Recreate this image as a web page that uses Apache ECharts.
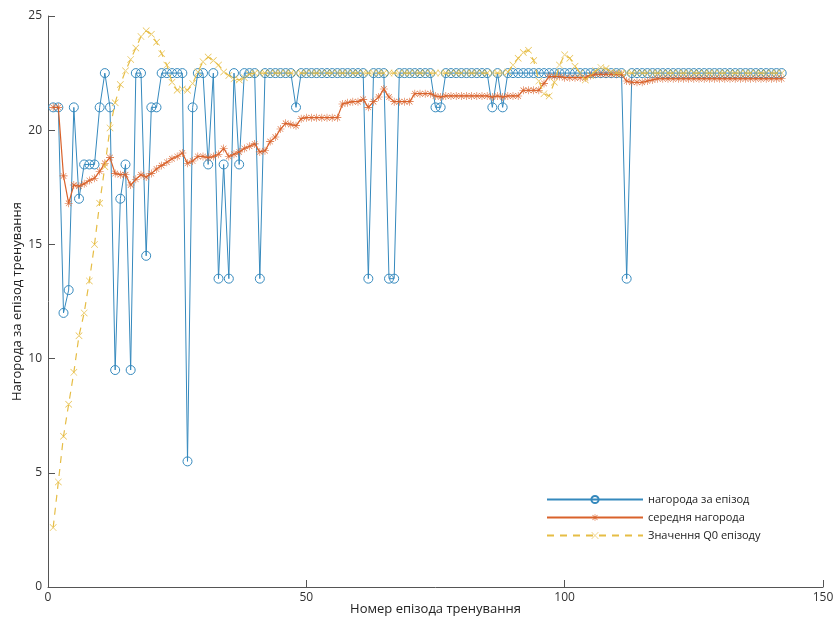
<!DOCTYPE html>
<html>
<head>
<meta charset="utf-8">
<script src="https://cdn.jsdelivr.net/npm/echarts@6/dist/echarts.min.js"></script>
<style>
  html, body { margin: 0; padding: 0; background: #fff; }
  #chart { width: 834px; height: 621px; }
</style>
</head>
<body>
<div id="chart"></div>
<script>
// нагорода за епізод
const episodeReward = [
  21, 21, 12, 13, 21, 17, 18.5, 18.5, 18.5, 21,
  22.5, 21, 9.5, 17, 18.5, 9.5, 22.5, 22.5, 14.5, 21,
  21, 22.5, 22.5, 22.5, 22.5, 22.5, 5.5, 21, 22.5, 22.5,
  18.5, 22.5, 13.5, 18.5, 13.5, 22.5, 18.5, 22.5, 22.5, 22.5,
  13.5, 22.5, 22.5, 22.5, 22.5, 22.5, 22.5, 21, 22.5, 22.5,
  22.5, 22.5, 22.5, 22.5, 22.5, 22.5, 22.5, 22.5, 22.5, 22.5,
  22.5, 13.5, 22.5, 22.5, 22.5, 13.5, 13.5, 22.5, 22.5, 22.5,
  22.5, 22.5, 22.5, 22.5, 21, 21, 22.5, 22.5, 22.5, 22.5,
  22.5, 22.5, 22.5, 22.5, 22.5, 21, 22.5, 21, 22.5, 22.5,
  22.5, 22.5, 22.5, 22.5, 22.5, 22.5, 22.5, 22.5, 22.5, 22.5,
  22.5, 22.5, 22.5, 22.5, 22.5, 22.5, 22.5, 22.5, 22.5, 22.5,
  22.5, 13.5, 22.5, 22.5, 22.5, 22.5, 22.5, 22.5, 22.5, 22.5,
  22.5, 22.5, 22.5, 22.5, 22.5, 22.5, 22.5, 22.5, 22.5, 22.5,
  22.5, 22.5, 22.5, 22.5, 22.5, 22.5, 22.5, 22.5, 22.5, 22.5,
  22.5, 22.5
]

// середня нагорода
const averageReward = [
  21, 21, 18.0, 16.8, 17.6, 17.55, 17.65, 17.8, 17.9, 18.2,
  18.55, 18.8, 18.1, 18.05, 18.05, 17.6, 17.85, 18.05, 17.95, 18.1,
  18.3, 18.45, 18.6, 18.75, 18.85, 19.0, 18.55, 18.65, 18.85, 18.85,
  18.8, 18.85, 18.95, 19.2, 18.85, 18.95, 19.05, 19.2, 19.3, 19.4,
  19.05, 19.1, 19.5, 19.7, 20.05, 20.3, 20.25, 20.2, 20.5, 20.55,
  20.55, 20.55, 20.55, 20.55, 20.55, 20.55, 21.15, 21.2, 21.25, 21.25,
  21.35, 21.0, 21.25, 21.45, 21.8, 21.45, 21.25, 21.25, 21.25, 21.25,
  21.6, 21.6, 21.6, 21.6, 21.5, 21.45, 21.5, 21.5, 21.5, 21.5,
  21.5, 21.5, 21.5, 21.5, 21.5, 21.45, 21.5, 21.45, 21.5, 21.5,
  21.5, 21.75, 21.75, 21.75, 21.75, 22.05, 22.35, 22.35, 22.35, 22.3,
  22.3, 22.3, 22.3, 22.3, 22.4, 22.45, 22.45, 22.45, 22.45, 22.45,
  22.45, 22.15, 22.1, 22.1, 22.1, 22.15, 22.2, 22.25, 22.25, 22.25,
  22.25, 22.25, 22.25, 22.25, 22.25, 22.25, 22.25, 22.25, 22.25, 22.25,
  22.25, 22.25, 22.25, 22.25, 22.25, 22.25, 22.25, 22.25, 22.25, 22.25,
  22.25, 22.25
]

// Значення Q0 епізоду
const q0Value = [
  2.6, 4.6, 6.6, 8.0, 9.4, 11.0, 12.0, 13.4, 15.0, 16.8,
  18.4, 20.1, 21.2, 22.0, 22.6, 23.1, 23.6, 24.1, 24.35, 24.2,
  23.85, 23.35, 22.85, 22.1, 21.75, 21.8, 21.75, 22.05, 22.55, 23.0,
  23.2, 23.05, 22.85, 22.55, 22.4, 22.25, 22.2, 22.3, 22.45, 22.5,
  22.5, 22.5, 22.5, 22.5, 22.5, 22.5, 22.5, 22.5, 22.5, 22.5,
  22.5, 22.5, 22.5, 22.5, 22.5, 22.5, 22.5, 22.5, 22.5, 22.5,
  22.5, 22.5, 22.5, 22.5, 22.5, 22.5, 22.5, 22.5, 22.5, 22.5,
  22.5, 22.5, 22.5, 22.5, 22.5, 22.5, 22.5, 22.5, 22.5, 22.5,
  22.5, 22.5, 22.5, 22.5, 22.5, 22.5, 22.5, 22.5, 22.55, 22.85,
  23.15, 23.4, 23.5, 23.05, 22.15, 21.6, 21.5, 22.1, 22.85, 23.3,
  23.15, 22.8, 22.5, 22.2, 22.4, 22.6, 22.75, 22.7, 22.55, 22.5,
  22.5, 22.5, 22.5, 22.5, 22.5, 22.5, 22.5, 22.5, 22.5, 22.5,
  22.5, 22.5, 22.5, 22.5, 22.5, 22.5, 22.5, 22.5, 22.5, 22.5,
  22.5, 22.5, 22.5, 22.5, 22.5, 22.5, 22.5, 22.5, 22.5, 22.5,
  22.5, 22.5
]

const seriesNames = ['нагорода за епізод', 'середня нагорода', 'Значення Q0 епізоду']
const xTicks = [0, 50, 100, 150]
const yTicks = [0, 5, 10, 15, 20, 25]

const colors = ['#3589bd', '#d9622b', '#e6bd45']
const font = '"Open Sans", "Noto Sans", sans-serif'

// episode numbers 1..N
const episodes = episodeReward.map((v, i) => i + 1)
const pairs = arr => arr.map((v, i) => [episodes[i], v])

// matlab-like markers
const starPath = 'path://M0,9.3 L20,9.3 L20,10.7 L0,10.7 Z M9.3,0 L10.7,0 L10.7,20 L9.3,20 Z ' +
  'M2.5,3.5 L3.5,2.5 L17.5,16.5 L16.5,17.5 Z M2.5,16.5 L3.5,17.5 L17.5,3.5 L16.5,2.5 Z'
const crossPath = 'path://M0,1.2 L1.2,0 L20,18.8 L18.8,20 Z M0,18.8 L1.2,20 L20,1.2 L18.8,0 Z'

var myChart = echarts.init(document.getElementById('chart'))

myChart.setOption({
  animation: false,
  color: colors,
  textStyle: { fontFamily: font },
  grid: {
    left: 48,
    right: 11,
    top: 16,
    bottom: 34,
    containLabel: false,
    outerBoundsMode: 'none'
  },
  legend: {
    orient: 'vertical',
    left: 541,
    top: 489,
    itemWidth: 96,
    itemHeight: 9,
    itemGap: 7,
    textStyle: { fontSize: 11, color: '#222', fontFamily: font },
    data: seriesNames
  },
  xAxis: {
    type: 'value',
    min: xTicks[0],
    max: xTicks[xTicks.length - 1],
    interval: 50,
    name: 'Номер епізода тренування',
    nameLocation: 'middle',
    nameGap: 16,
    nameMoveOverlap: false,
    nameTextStyle: { fontSize: 13, color: '#222' },
    axisLine: { show: true, lineStyle: { color: '#555' } },
    axisTick: { show: true, inside: true, length: 7, lineStyle: { color: '#555' } },
    axisLabel: { fontSize: 12, color: '#333', margin: 5 },
    splitLine: { show: false }
  },
  yAxis: {
    type: 'value',
    min: yTicks[0],
    max: yTicks[yTicks.length - 1],
    interval: 5,
    name: 'Нагорода за епізод тренування',
    nameLocation: 'middle',
    nameGap: 24,
    nameMoveOverlap: false,
    nameTextStyle: { fontSize: 13, color: '#222' },
    axisLine: { show: true, lineStyle: { color: '#555' } },
    axisTick: { show: true, inside: true, length: 7, lineStyle: { color: '#555' } },
    axisLabel: { fontSize: 12, color: '#333', margin: 6 },
    splitLine: { show: false }
  },
  series: [
    {
      name: seriesNames[0],
      type: 'line',
      z: 2,
      data: pairs(episodeReward),
      symbol: 'circle',
      symbolSize: 9,
      showAllSymbol: true,
      lineStyle: { color: colors[0], width: 1 },
      itemStyle: { color: 'rgba(255,255,255,0)', borderColor: colors[0], borderWidth: 1 }
    },
    {
      name: seriesNames[1],
      type: 'line',
      z: 3,
      data: pairs(averageReward),
      symbol: starPath,
      symbolSize: 8,
      showAllSymbol: true,
      lineStyle: { color: colors[1], width: 1.2 },
      itemStyle: { color: colors[1] }
    },
    {
      name: seriesNames[2],
      type: 'line',
      z: 4,
      data: pairs(q0Value),
      symbol: crossPath,
      symbolSize: 7,
      showAllSymbol: true,
      lineStyle: { color: colors[2], width: 1.2, type: [7, 6] },
      itemStyle: { color: colors[2] }
    }
  ]
})
</script>
</body>
</html>
